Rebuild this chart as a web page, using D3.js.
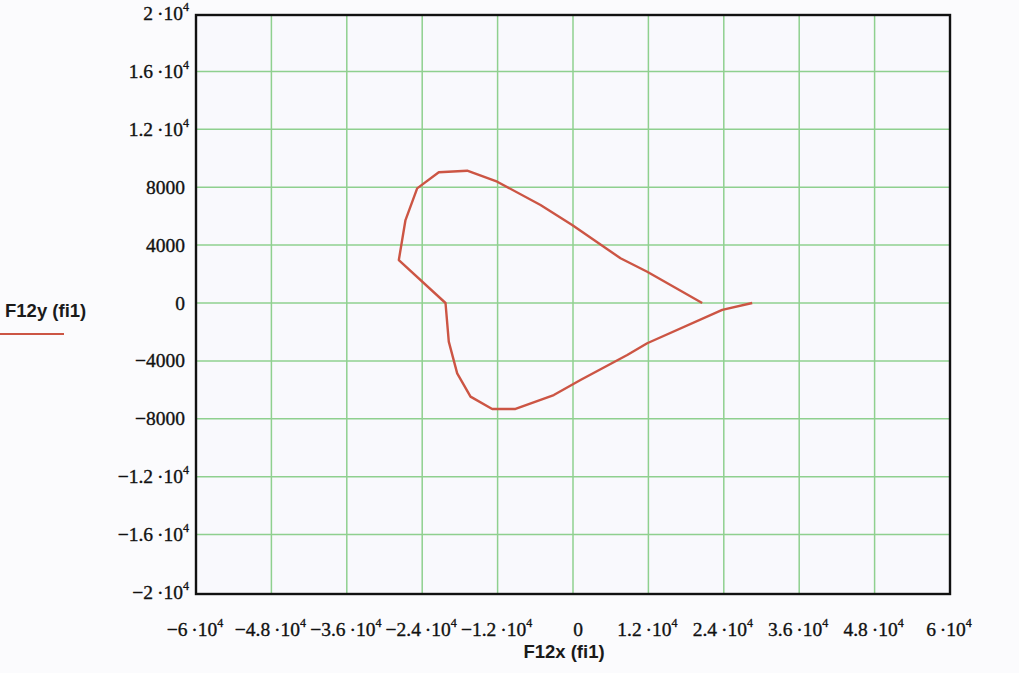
<!DOCTYPE html>
<html><head><meta charset="utf-8">
<script src="https://cdn.jsdelivr.net/npm/d3@7"></script>
<style>
html,body{margin:0;padding:0;background:#fbfbfd;}
svg{display:block;}
</style></head>
<body>
<svg id="c" width="1019" height="673"></svg>
<script>
// Curve samples F12x(fi1), F12y(fi1)
const curveX = [20560, 11810, 7560, -130, -5170, -12060, -16840, -21360, -24800, -26660, -27720,
                -20290, -19770, -18430, -16310, -12860, -9150, -3060, 1190, 8630, 11810, 23750, 28520];
const curveY = [0, 2160, 3090, 5390, 6770, 8380, 9140, 9030, 7920, 5730, 2970,
                0, -2670, -4860, -6470, -7320, -7320, -6360, -5320, -3590, -2780, -480, 0];

// Tick values and labels (mantissa, exponent or null)
const xTicks = [-60000, -48000, -36000, -24000, -12000, 0, 12000, 24000, 36000, 48000, 60000];
const xTickLabels = [["−6","4"],["−4.8","4"],["−3.6","4"],["−2.4","4"],["−1.2","4"],["0",null],
                     ["1.2","4"],["2.4","4"],["3.6","4"],["4.8","4"],["6","4"]];
const yTicks = [20000, 16000, 12000, 8000, 4000, 0, -4000, -8000, -12000, -16000, -20000];
const yTickLabels = [["2","4"],["1.6","4"],["1.2","4"],["8000",null],["4000",null],["0",null],
                     ["−4000",null],["−8000",null],["−1.2","4"],["−1.6","4"],["−2","4"]];

const xTitle = "F12x (fi1)";
const yTitle = "F12y (fi1)";

const svg = d3.select("#c");
const L = 196, R = 950, T = 15, B = 594;
const x = d3.scaleLinear().domain([-60000, 60000]).range([L, R]);
const y = d3.scaleLinear().domain([-20000, 20000]).range([B, T]);

// plot background
svg.append("rect").attr("x", L).attr("y", T).attr("width", R - L).attr("height", B - T)
  .attr("fill", "#f9f9fd");

// grid
const grid = svg.append("g").attr("stroke", "#8fd08f").attr("stroke-width", 1.5);
grid.selectAll("line.vx").data(xTicks.slice(1, -1)).join("line")
  .attr("x1", d => x(d)).attr("x2", d => x(d)).attr("y1", T).attr("y2", B);
grid.selectAll("line.hy").data(yTicks.slice(1, -1)).join("line")
  .attr("x1", L).attr("x2", R).attr("y1", d => y(d) - 1.5).attr("y2", d => y(d) - 1.5);

// curve
const line = d3.line().x(d => x(d[0])).y(d => y(d[1]) - 1.5);
svg.append("path").datum(curveX.map((v, i) => [v, curveY[i]]))
  .attr("d", line).attr("fill", "none").attr("stroke", "#cc5544")
  .attr("stroke-width", 2.4).attr("stroke-linejoin", "round");

// frame
svg.append("rect").attr("x", L).attr("y", T).attr("width", R - L).attr("height", B - T)
  .attr("fill", "none").attr("stroke", "#111").attr("stroke-width", 2.4);

function label(g, lab) {
  const t = g.append("text");
  if (lab[1] === null) {
    t.text(lab[0]);
  } else {
    t.append("tspan").text(lab[0] + "\u2009·10");
    t.append("tspan").attr("dy", -9).attr("font-size", 12).text(lab[1]);
  }
  return t;
}

const tickFont = {family: "Liberation Serif, serif", size: 19.5};

// y tick labels
const yg = svg.append("g").attr("font-family", tickFont.family).attr("font-size", tickFont.size)
  .attr("fill", "#111").attr("stroke", "#111").attr("stroke-width", 0.35).attr("text-anchor", "end");
yTicks.forEach((v, i) => {
  const g = yg.append("g").attr("transform", `translate(${L - 11 + (yTickLabels[i][1] ? 4 : 0)},${y(v) + 5})`);
  label(g, yTickLabels[i]);
});

// x tick labels
const xg = svg.append("g").attr("font-family", tickFont.family).attr("font-size", tickFont.size)
  .attr("fill", "#111").attr("stroke", "#111").attr("stroke-width", 0.35).attr("text-anchor", "middle");
xTicks.forEach((v, i) => {
  const g = xg.append("g").attr("transform", `translate(${x(v) + (xTickLabels[i][1] ? -1 : 5)},${636})`);
  label(g, xTickLabels[i]);
});

// axis titles
svg.append("text").attr("x", 564).attr("y", 658).attr("text-anchor", "middle")
  .attr("font-family", "Liberation Sans, Arial, sans-serif").attr("font-size", 18.5)
  .attr("font-weight", "bold").attr("fill", "#1a1a1a").text(xTitle);
svg.append("text").attr("x", 5).attr("y", 317)
  .attr("font-family", "Liberation Sans, Arial, sans-serif").attr("font-size", 18.5)
  .attr("font-weight", "bold").attr("fill", "#1a1a1a").text(yTitle);
svg.append("line").attr("x1", 0).attr("x2", 64).attr("y1", 334).attr("y2", 334)
  .attr("stroke", "#cc5544").attr("stroke-width", 2);
</script>
</body></html>
